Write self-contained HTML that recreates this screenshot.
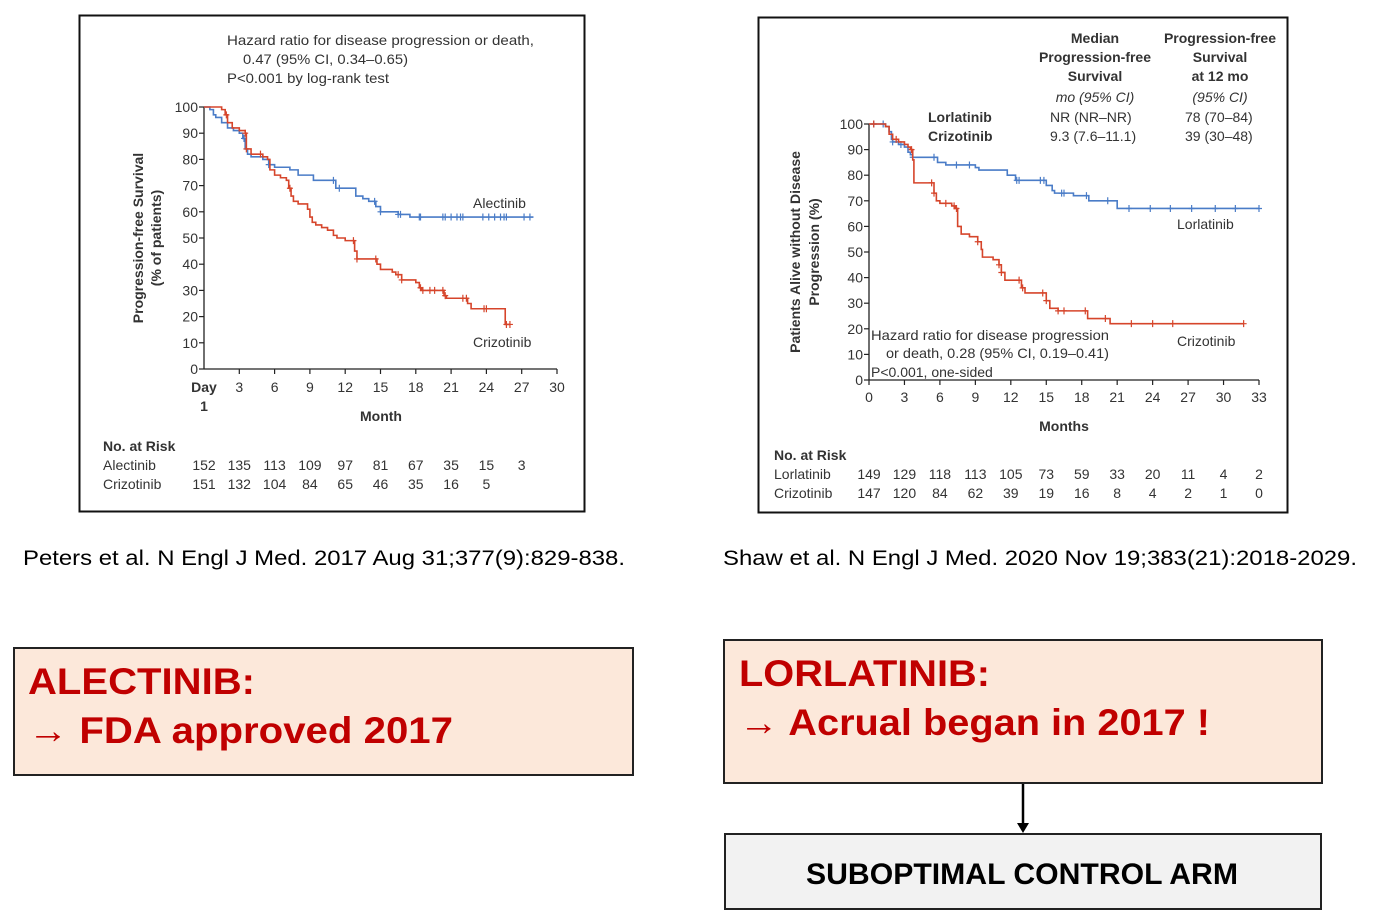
<!DOCTYPE html>
<html><head><meta charset="utf-8"><style>
html,body{margin:0;padding:0;background:#fff;}
svg{display:block;font-family:"Liberation Sans",sans-serif;}
.s{font-size:14px;fill:#333;}
.b{font-weight:bold;}
</style></head><body>
<svg id="page" width="1389" height="917" viewBox="0 0 1389 917" xmlns="http://www.w3.org/2000/svg">
<rect x="0" y="0" width="1389" height="917" fill="#fff"/>
<rect x="79.5" y="15.5" width="505" height="496" fill="none" stroke="#111" stroke-width="2"/>
<rect x="758.5" y="17.5" width="529" height="495" fill="none" stroke="#111" stroke-width="2"/>
<g id="left"></g>
<g id="right"></g>

<text class="s" x="227" y="45" textLength="307" lengthAdjust="spacingAndGlyphs">Hazard ratio for disease progression or death,</text>
<text class="s" x="243" y="64" textLength="165" lengthAdjust="spacingAndGlyphs">0.47 (95% CI, 0.34–0.65)</text>
<text class="s" x="227" y="83" textLength="162" lengthAdjust="spacingAndGlyphs">P&lt;0.001 by log-rank test</text>
<text class="s b" transform="translate(143,238) rotate(-90)" text-anchor="middle">Progression-free Survival</text>
<text class="s b" transform="translate(161,238) rotate(-90)" text-anchor="middle">(% of patients)</text>
<text class="s b" x="381" y="421" text-anchor="middle">Month</text>
<text class="s" x="473" y="208">Alectinib</text>
<text class="s" x="473" y="347">Crizotinib</text>
<text class="s b" x="103" y="451">No. at Risk</text>
<text class="s" x="103" y="470">Alectinib</text>
<text class="s" x="103" y="489">Crizotinib</text>

<text class="s b" text-anchor="middle"><tspan x="1095" y="43">Median</tspan><tspan x="1095" y="62">Progression-free</tspan><tspan x="1095" y="81">Survival</tspan></text>
<text class="s" font-style="italic" x="1095" y="102" text-anchor="middle">mo (95% CI)</text>
<text class="s b" text-anchor="middle"><tspan x="1220" y="43">Progression-free</tspan><tspan x="1220" y="62">Survival</tspan><tspan x="1220" y="81">at 12 mo</tspan></text>
<text class="s" font-style="italic" x="1220" y="102" text-anchor="middle">(95% CI)</text>
<text class="s b" x="928" y="122">Lorlatinib</text>
<text class="s b" x="928" y="141">Crizotinib</text>
<text class="s" x="1050" y="122">NR (NR–NR)</text>
<text class="s" x="1050" y="141">9.3 (7.6–11.1)</text>
<text class="s" x="1185" y="122">78 (70–84)</text>
<text class="s" x="1185" y="141">39 (30–48)</text>
<text class="s b" transform="translate(800,252) rotate(-90)" text-anchor="middle">Patients Alive without Disease</text>
<text class="s b" transform="translate(819,252) rotate(-90)" text-anchor="middle">Progression (%)</text>
<text class="s b" x="1064" y="431" text-anchor="middle">Months</text>
<text class="s" x="1177" y="229">Lorlatinib</text>
<text class="s" x="1177" y="346">Crizotinib</text>
<text class="s" x="871" y="340" textLength="238" lengthAdjust="spacingAndGlyphs">Hazard ratio for disease progression</text>
<text class="s" x="886" y="358" textLength="223" lengthAdjust="spacingAndGlyphs">or death, 0.28 (95% CI, 0.19–0.41)</text>
<text class="s" x="871" y="377">P&lt;0.001, one-sided</text>
<text class="s b" x="774" y="460">No. at Risk</text>
<text class="s" x="774" y="479">Lorlatinib</text>
<text class="s" x="774" y="498">Crizotinib</text>

<text x="23" y="565" font-size="21" fill="#000" textLength="602" lengthAdjust="spacingAndGlyphs">Peters et al. N Engl J Med. 2017 Aug 31;377(9):829-838.</text>
<text x="723" y="565" font-size="21" fill="#000" textLength="634" lengthAdjust="spacingAndGlyphs">Shaw et al. N Engl J Med. 2020 Nov 19;383(21):2018-2029.</text>

<rect x="14" y="648" width="619" height="127" fill="#fce8da" stroke="#222" stroke-width="2"/>
<text x="28" y="694" font-size="37" font-weight="bold" fill="#c00000" textLength="227" lengthAdjust="spacingAndGlyphs">ALECTINIB:</text>
<text x="28" y="743" font-size="37" font-weight="bold" fill="#c00000" textLength="425" lengthAdjust="spacingAndGlyphs">→ FDA approved 2017</text>
<rect x="724" y="640" width="598" height="143" fill="#fce8da" stroke="#222" stroke-width="2"/>
<text x="739" y="686" font-size="37" font-weight="bold" fill="#c00000" textLength="251" lengthAdjust="spacingAndGlyphs">LORLATINIB:</text>
<text x="739" y="735" font-size="37" font-weight="bold" fill="#c00000" textLength="471" lengthAdjust="spacingAndGlyphs">→ Acrual began in 2017 !</text>
<line x1="1023" y1="784" x2="1023" y2="826" stroke="#000" stroke-width="2.5"/>
<polygon points="1017,823 1029,823 1023,833" fill="#000"/>
<rect x="725" y="834" width="596" height="75" fill="#f2f2f2" stroke="#222" stroke-width="2"/>
<text x="1022" y="884" font-size="30" font-weight="bold" fill="#000" text-anchor="middle" textLength="432" lengthAdjust="spacingAndGlyphs">SUBOPTIMAL CONTROL ARM</text>
</svg>
<script>
// ----- Left chart data (Peters 2017) -----
const leftXTicks = [3,6,9,12,15,18,21,24,27,30];
const leftYTicks = [0,10,20,30,40,50,60,70,80,90,100];
const alecT = [0,0.5,0.8,1,1.5,2,2.5,3,3.3,3.5,3.7,4,5,5.5,6,7.3,8,9.3,11.2,12.9,13.5,14,14.6,15,16.5,17.5,28];
const alecS = [100,99,97,96,94,92,91,90,88,84,82,81,80,78,77,76,74,72,69,66,65,64,62,60,59,58,58];
const crizLT = [0,1,1.5,1.8,2,2.4,3,3.5,3.6,4,5,5.4,5.6,6,6.5,7,7.2,7.4,7.6,8,8.8,9,9.2,9.5,10,10.5,11,11.3,12,12.8,13,14.7,15,16,16.3,16.8,18,18.3,18.5,20.4,20.6,22.4,22.7,25.6,26];
const crizLS = [100,100,99,97,94,92,91,90,84,82,81,80,76,74,73,72,69,66,64,63,61,58,56,55,54,53,51,50,49,45,42,40,38,37,36,34,33,31,30,28,27,25,23,17,17];
const alecCens = [3.4,5.5,11,11.5,14.5,15,16.5,16.7,18.3,18.4,20.3,20.5,21,21.5,21.8,22,23.7,24.2,24.7,25.2,25.5,25.7,27.2,27.7];
const crizLCens = [1.9,3.5,3.6,4.8,7.3,12.7,13,14.6,16.5,16.8,18.4,18.6,19.2,19.6,20.3,20.5,22,22.3,23.8,24,25.7,26];
const alecRisk = [152,135,113,109,97,81,67,35,15,3];
const crizLRisk = [151,132,104,84,65,46,35,16,5];
// ----- Right chart data (Shaw 2020) -----
const rightXTicks = [0,3,6,9,12,15,18,21,24,27,30,33];
const rightYTicks = [0,10,20,30,40,50,60,70,80,90,100];
const lorT = [0,1,1.4,1.7,1.9,2,2.5,3,3.3,3.5,3.7,5.8,6.5,9,9.3,11.7,12.4,15,15.5,15.7,17.3,18.6,21,33];
const lorS = [100,100,99,97,94,93,92,91,89,88,87,85,84,83,82,80,78,76,74,73,72,70,67,67];
const crizRT = [0,1.4,1.7,2,2.5,3,3.3,3.5,3.7,3.8,5.5,5.7,6,7,7.3,7.5,7.8,8.5,9.2,9.5,9.6,10.5,11,11.2,11.5,12.9,13.2,15,15.3,16,18.5,20.4,31.7];
const crizRS = [100,99,96,94,93,92,91,90,86,77,73,70,69,68,67,60,57,56,54,51,48,47,45,42,39,36,34,31,28,27,24,22,22];
const lorCens = [0.4,1.2,2,2.7,3.7,5.5,7.4,8.5,12.5,12.7,14.5,14.8,16.3,16.5,18.4,20.2,22,23.8,25.5,27.3,29.3,31,33];
const crizRCens = [0.4,2.3,3.6,5.3,5.5,6.5,7.2,7.4,9.2,11,11.2,12.7,13,14.7,15,16,16.5,18.3,20,22.2,24,25.7,31.7];
const lorRisk = [149,129,118,113,105,73,59,33,20,11,4,2];
const crizRRisk = [147,120,84,62,39,19,16,8,4,2,1,0];

const NS='http://www.w3.org/2000/svg';
function mk(parent,tag,attrs,txt){const e=document.createElementNS(NS,tag);for(const k in attrs)e.setAttribute(k,attrs[k]);if(txt!==undefined)e.textContent=txt;parent.appendChild(e);return e;}
function stepAt(T,S,t){let v=S[0];for(let i=0;i<T.length;i++){if(T[i]<=t)v=S[i];}return v;}

function drawChart(g,cfg){
  const X=v=>cfg.x0+(v/cfg.xmax)*(cfg.x1-cfg.x0);
  const Y=v=>cfg.y0-(v/100)*(cfg.y0-cfg.y1);
  let l=mk(g,'line',{x1:X(0),y1:Y(0),x2:X(0),y2:Y(100),stroke:'#222','stroke-width':1.3});
  
  
  l=mk(g,'line',{x1:X(0),y1:Y(0),x2:X(cfg.xmax),y2:Y(0),stroke:'#222','stroke-width':1.3});
  
  
  cfg.yt.forEach(v=>{
    const t=mk(g,'line',{x1:X(0)-5,y1:Y(v),x2:X(0),y2:Y(v),stroke:'#222','stroke-width':1.2});
    
    
    const tx=mk(g,'text',{x:X(0)-6,y:Y(v)+5,'text-anchor':'end',class:'s'},String(v));
    
    
  });
  cfg.xt.forEach(v=>{
    const t=mk(g,'line',{x1:X(v),y1:Y(0),x2:X(v),y2:Y(0)+5,stroke:'#222','stroke-width':1.2});
    
    
    const tx=mk(g,'text',{x:X(v),y:Y(0)+cfg.tickDy,'text-anchor':'middle',class:'s'},String(v));
    
    
  });
  cfg.series.forEach(s=>{
    let d='M'+X(s.T[0])+','+Y(s.S[0]);
    for(let i=1;i<s.T.length;i++){d+=' H'+X(s.T[i])+' V'+Y(s.S[i]);}
    const p=mk(g,'path',{d:d,fill:'none',stroke:s.color,'stroke-width':1.6});
    
    
    s.C.forEach(c=>{
      const y=Y(stepAt(s.T,s.S,c));
      const m=mk(g,'path',{d:'M'+X(c)+','+(y-3.5)+' V'+(y+3.5)+' M'+(X(c)-3)+','+y+' H'+(X(c)+3),stroke:s.color,'stroke-width':1.2});
      
      
    });
    s.R.forEach((r,i)=>{
      const tx=mk(g,'text',{x:X(cfg.riskStart+i*3),y:s.ry,'text-anchor':'middle',class:'s'},String(r));
      
      
    });
  });
}

const gl=document.getElementById('left');
drawChart(gl,{x0:204,x1:557,xmax:30,y0:369,y1:107,xt:leftXTicks,yt:leftYTicks,tickDy:23,riskStart:0,
  series:[
   {name:'alectinib',T:alecT,S:alecS,C:alecCens,R:alecRisk,color:'#4a7cc7',ry:470},
   {name:'crizotinib-left',T:crizLT,S:crizLS,C:crizLCens,R:crizLRisk,color:'#d6452b',ry:489}
  ]});
let dt=mk(gl,'text',{x:204,y:392,'text-anchor':'middle',class:'s b'},'Day');


dt=mk(gl,'text',{x:204,y:411,'text-anchor':'middle',class:'s b'},'1');



const gr=document.getElementById('right');
drawChart(gr,{x0:869,x1:1259,xmax:33,y0:380,y1:124,xt:rightXTicks,yt:rightYTicks,tickDy:22,riskStart:0,
  series:[
   {name:'lorlatinib',T:lorT,S:lorS,C:lorCens,R:lorRisk,color:'#4a7cc7',ry:479},
   {name:'crizotinib-right',T:crizRT,S:crizRS,C:crizRCens,R:crizRRisk,color:'#d6452b',ry:498}
  ]});
</script>
</body></html>
